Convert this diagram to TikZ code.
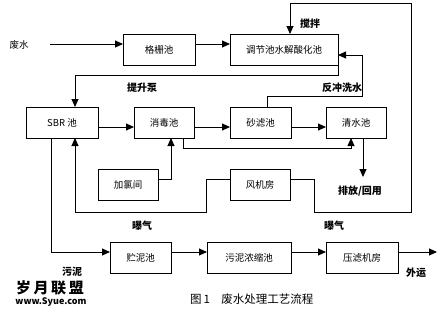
\documentclass[tikz,border=0pt]{standalone}
\usepackage{fontspec}
\setmainfont{Noto Sans CJK SC}
\usetikzlibrary{arrows.meta}
\begin{document}
\begin{tikzpicture}[x=1pt,y=-1pt,
  box/.style={draw, line width=0.9pt, minimum height=31pt, inner sep=0pt, outer sep=0pt, font=\fontsize{9.5}{10}\selectfont},
  arr/.style={-{Triangle[length=8pt,width=7pt]}, line width=0.9pt},
  lab/.style={font=\fontsize{10}{11}\selectfont\bfseries, inner sep=0pt}]
\useasboundingbox (0,0) rectangle (438,314);
% boxes
\node[box, minimum width=72pt]  (gs) at (159,49.5)  {格栅池};
\node[box, minimum width=108pt] (tj) at (284,49.5)  {调节池水解酸化池};
\node[box, minimum width=72pt]  (sbr) at (62,122.5) {SBR 池};
\node[box, minimum width=60pt]  (xd) at (164,122.5) {消毒池};
\node[box, minimum width=61pt]  (sl) at (260.5,122.5) {砂滤池};
\node[box, minimum width=60pt]  (qs) at (356,122.5) {清水池};
\node[box, minimum width=60pt]  (jl) at (128,184.5) {加氯间};
\node[box, minimum width=60pt]  (fj) at (260,184.5) {风机房};
\node[box, minimum width=61pt]  (zn) at (140.5,257.5) {贮泥池};
\node[box, minimum width=84pt]  (wn) at (249,257.5) {污泥浓缩池};
\node[box, minimum width=72pt]  (yl) at (362,257.5) {压滤机房};
% helper coordinates
\coordinate (in) at (50,44);
\coordinate (r2) at (0,127);
\coordinate (r3) at (0,252);
\coordinate (t1) at (75,75);
\coordinate (d1) at (183,148);
\coordinate (d2) at (351,148);
\coordinate (cl) at (171,179);
\coordinate (ot) at (363,177);
\coordinate (f1) at (267,96);
\coordinate (f2) at (362,55);
\coordinate (k1) at (314,212);
\coordinate (k2) at (411,3);
\coordinate (k3) at (290,3);
\coordinate (a1) at (206,179);
\coordinate (a2) at (75,212);
\coordinate (s1) at (51,252);
\coordinate (ex) at (437,252);
% connectors
\draw[arr] (in) -- (in -| gs.west);
\draw[arr] (in -| gs.east) -- (in -| tj.west);
\draw[arr] (tj.south east) |- (t1) -- (t1 |- sbr.north);
\draw[arr] (r2 -| sbr.east) -- (r2 -| xd.west);
\draw[arr] (r2 -| xd.east) -- (r2 -| sl.west);
\draw[arr] (r2 -| sl.east) -- (r2 -| qs.west);
\draw[arr] (d1 |- xd.south) -- (d1) -- (d2) -- (d2 |- qs.south);
\draw[arr] (cl -| jl.east) -- (cl) -- (cl |- xd.south);
\draw[arr] (ot |- qs.south) -- (ot);
\draw[arr] (f1 |- sl.north) -- (f1) -| (f2) -- (f2 -| tj.east);
\draw[arr] (a1 -| fj.east) -| (k1) -| (k2) -| (k3) -- (k3 |- tj.north);
\draw[arr] (a1 -| fj.west) -- (a1) |- (a2) -- (a2 |- sbr.south);
\draw[arr] (s1 |- sbr.south) -- (s1) -- (s1 -| zn.west);
\draw[arr] (r3 -| zn.east) -- (r3 -| wn.west);
\draw[arr] (r3 -| wn.east) -- (r3 -| yl.west);
\draw[arr] (r3 -| yl.east) -- (ex);
% labels
\node[inner sep=0pt, font=\fontsize{9.5}{10}\selectfont] (lfs) at (19,45) {废水};
\node[lab] (l1) at (142,88) {提升泵};
\node[lab] (l2) at (310,24) {搅拌};
\node[lab] (l3) at (342,88) {反冲洗水};
\node[lab] (l4) at (360,191) {排放/回用};
\node[lab] (l5) at (142,226) {曝气};
\node[lab] (l6) at (334,226) {曝气};
\node[lab] (l7) at (72,272) {污泥};
\node[lab] (l8) at (416,273) {外运};
\node[inner sep=0pt, font=\fontsize{15}{16}\selectfont\bfseries] (w1) at (50,288) {岁\,月\,联\,盟};
\node[inner sep=0pt, font=\fontsize{9}{10}\selectfont\bfseries] (w2) at (51,302) {www.Syue.com};
\node[inner sep=0pt, font=\fontsize{11.5}{12}\selectfont, anchor=west] (cap) at (190,299) {图\,1\quad 废水处理工艺流程};
\end{tikzpicture}
\end{document}
